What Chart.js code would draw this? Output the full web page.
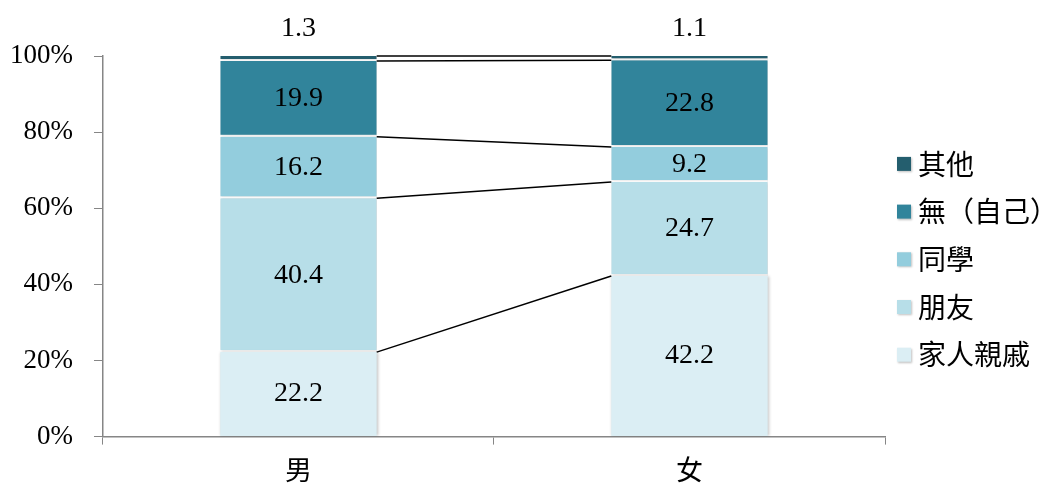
<!DOCTYPE html>
<html>
<head>
<meta charset="utf-8">
<script src="https://cdn.jsdelivr.net/npm/chart.js@4"></script>
<style>
    html, body { margin: 0; padding: 0; background: #fff; }
    #wrap { width: 1056px; height: 487px; }
</style>
</head>
<body>
<div id="wrap"><canvas id="chart" width="1056" height="487"></canvas></div>
<script>
const categories = ['男', '女'];
const seriesNames = ['家人親戚', '朋友', '同學', '無（自己）', '其他'];
const familyValues = [22.2, 42.2];
const friendValues = [40.4, 24.7];
const classmateValues = [16.2, 9.2];
const noneValues = [19.9, 22.8];
const otherValues = [1.3, 1.1];
const yTicks = [0, 20, 40, 60, 80, 100];

const colors = ['#dbeef4', '#b7dee8', '#93cddd', '#31849b', '#245e6e'];
const serif = "'Liberation Serif', 'DejaVu Serif', serif";
const cjk = "'Noto Sans CJK TC', 'Noto Sans', sans-serif";

const seriesValues = [familyValues, friendValues, classmateValues, noneValues, otherValues];

const barShadow = {
    id: 'barShadow',
    beforeDatasetsDraw(chart) {
        const ctx = chart.ctx;
        ctx.save();
        ctx.shadowColor = 'rgba(0,0,0,0.25)';
        ctx.shadowBlur = 3;
        ctx.shadowOffsetX = 1;
    },
    afterDatasetsDraw(chart) {
        chart.ctx.restore();
    }
};

// Excel-style series lines joining the segment tops of the two bars
const seriesLines = {
    id: 'seriesLines',
    afterDatasetsDraw(chart) {
        const ctx = chart.ctx;
        ctx.save();
        ctx.strokeStyle = '#000';
        ctx.lineWidth = 1.5;
        chart.data.datasets.forEach((ds, i) => {
            const meta = chart.getDatasetMeta(i);
            const a = meta.data[0];
            const b = meta.data[1];
            ctx.beginPath();
            ctx.moveTo(a.x + a.width / 2, a.y);
            ctx.lineTo(b.x - b.width / 2, b.y);
            ctx.stroke();
        });
        ctx.restore();
    }
};

const valueLabels = {
    id: 'valueLabels',
    afterDatasetsDraw(chart) {
        const ctx = chart.ctx;
        ctx.save();
        ctx.fillStyle = '#000';
        ctx.font = '28px ' + serif;
        ctx.textAlign = 'center';
        ctx.textBaseline = 'middle';
        const last = chart.data.datasets.length - 1;
        chart.data.datasets.forEach((ds, i) => {
            const meta = chart.getDatasetMeta(i);
            meta.data.forEach((bar, j) => {
                const text = ds.data[j].toFixed(1);
                if (i === last) {
                    ctx.fillText(text, bar.x, bar.y - 27);
                } else {
                    ctx.fillText(text, bar.x, (bar.y + bar.base) / 2);
                }
            });
        });
        ctx.restore();
    }
};

// legend drawn by hand so the box/text gap matches the original
const sideLegend = {
    id: 'sideLegend',
    afterDraw(chart) {
        const ctx = chart.ctx;
        const area = chart.chartArea;
        const left = area.right + 12;
        const rowH = 47.7;
        const n = chart.data.datasets.length;
        const top = (area.top + area.bottom) / 2 + 13 - rowH * (n - 1) / 2;
        ctx.save();
        ctx.font = '28px ' + cjk;
        ctx.textBaseline = 'middle';
        ctx.textAlign = 'left';
        for (let k = 0; k < n; k++) {
            const ds = chart.data.datasets[n - 1 - k];
            const y = top + k * rowH;
            ctx.shadowColor = 'rgba(0,0,0,0.25)';
            ctx.shadowBlur = 2;
            ctx.shadowOffsetX = 1;
            ctx.shadowOffsetY = 1;
            ctx.fillStyle = ds.backgroundColor;
            ctx.fillRect(left, y - 7, 14, 14);
            ctx.shadowColor = 'transparent';
            ctx.fillStyle = '#000';
            ctx.fillText(ds.label, left + 21, y);
        }
        ctx.restore();
    }
};

new Chart(document.getElementById('chart'), {
    type: 'bar',
    data: {
        labels: categories,
        datasets: seriesNames.map((name, i) => ({
            label: name,
            data: seriesValues[i],
            backgroundColor: colors[i],
            borderColor: '#ffffff',
            borderWidth: { top: 0, left: 0, right: 0, bottom: i === 0 ? 0 : 2 },
            borderSkipped: false,
            barPercentage: 0.8,
            categoryPercentage: 0.5
        }))
    },
    options: {
        responsive: false,
        animation: false,
        layout: { padding: { top: 56, left: -11, right: 171, bottom: -8 } },
        plugins: {
            tooltip: { enabled: false },
            legend: { display: false }
        },
        scales: {
            x: {
                stacked: true,
                grid: {
                    drawOnChartArea: false,
                    drawTicks: true,
                    tickLength: 8,
                    color: '#868686',
                    offset: true
                },
                border: { color: '#868686', width: 1.5 },
                ticks: {
                    color: '#000',
                    padding: 9,
                    font: { family: cjk, size: 27 }
                }
            },
            y: {
                stacked: true,
                min: 0,
                max: 100,
                afterBuildTicks(axis) {
                    axis.ticks = yTicks.map(v => ({ value: v }));
                },
                grid: {
                    drawOnChartArea: false,
                    drawTicks: true,
                    tickLength: 9,
                    color: '#868686'
                },
                border: { color: '#868686', width: 1.5 },
                ticks: {
                    color: '#000',
                    padding: 21,
                    font: { family: serif, size: 27 },
                    callback: v => v + '%'
                }
            }
        }
    },
    plugins: [barShadow, seriesLines, valueLabels, sideLegend]
});
</script>
</body>
</html>
